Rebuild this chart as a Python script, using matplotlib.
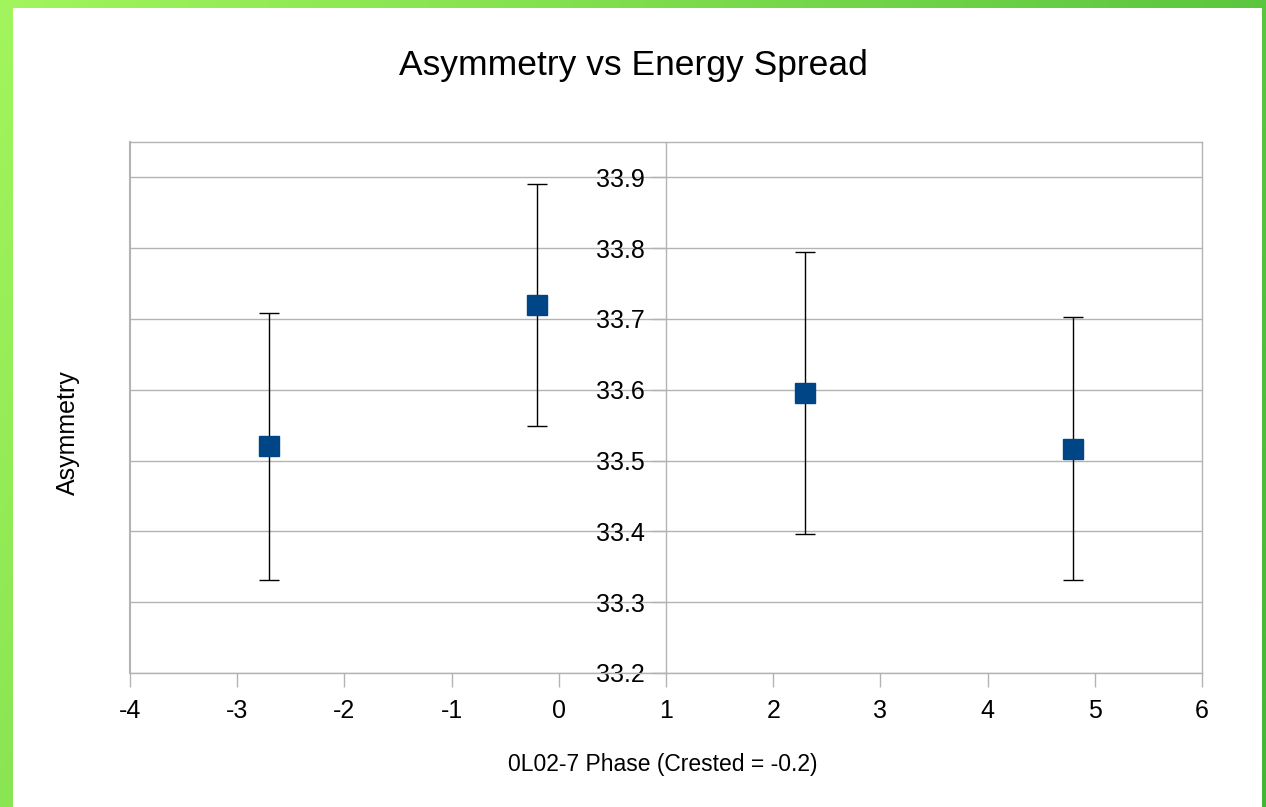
import numpy as np
import matplotlib
matplotlib.use("Agg")
import matplotlib.pyplot as plt
from matplotlib.patches import Rectangle

plt.rcParams['font.family'] = ['Liberation Sans', 'DejaVu Sans']

# Data
phase = [-2.7, -0.2, 2.3, 4.8]
asym = [33.52, 33.72, 33.595, 33.517]
err = [0.188, 0.171, 0.199, 0.186]
xticks = [-4, -3, -2, -1, 0, 1, 2, 3, 4, 5, 6]
yticks = [33.2, 33.3, 33.4, 33.5, 33.6, 33.7, 33.8, 33.9]

W, H = 1266, 807
fig = plt.figure(figsize=(W / 100, H / 100), dpi=100)

# Green gradient background
bg = fig.add_axes([0, 0, 1, 1])
bg.set_axis_off()
gx = np.linspace(0, 1, 300)[None, :]
gy = np.linspace(0, 1, 200)[:, None]
t = np.clip(0.75 * gx + 0.25 * gy, 0, 1)
c0 = np.array([0xa2, 0xf5, 0x5c]) / 255.0
c1 = np.array([0x44, 0xb6, 0x36]) / 255.0
img = c0[None, None, :] * (1 - t[..., None]) + c1[None, None, :] * t[..., None]
bg.imshow(img, extent=[0, 1, 0, 1], aspect='auto', origin='upper')
bg.add_patch(Rectangle((13 / W, 0), (1262 - 13) / W, (H - 8) / H,
                       transform=bg.transAxes, facecolor='white', edgecolor='none'))
bg.set_xlim(0, 1)
bg.set_ylim(0, 1)

ax = fig.add_axes([130 / W, 1 - 673 / H, (1202 - 130) / W, (673 - 142) / H])
ax.set_facecolor('none')
ax.set_xlim(-4, 6)
ax.set_ylim(33.2, 33.95)

gcol = '#b3b3b3'
ax.set_xticks(xticks)
ax.set_xticklabels([str(v) for v in xticks])
ax.set_yticks(yticks)
ax.set_yticklabels([f"{v:.1f}" for v in yticks])
ax.yaxis.grid(True, color=gcol, linewidth=1)
ax.set_axisbelow(True)

for s in ['top', 'right', 'bottom']:
    ax.spines[s].set_color(gcol)
    ax.spines[s].set_linewidth(1)
ax.spines['left'].set_position(('data', 1))
ax.spines['left'].set_color(gcol)
ax.spines['left'].set_linewidth(1)
ax.axvline(-4, color=gcol, linewidth=1.5, clip_on=False)

ax.tick_params(axis='x', direction='out', length=10, width=1, color=gcol,
               labelsize=18, pad=9)
ax.tick_params(axis='y', direction='out', length=10, width=1, color=gcol,
               labelsize=18, pad=5.5)

ax.errorbar(phase, asym, yerr=err, fmt='s', color='#004586', markersize=14,
            markeredgecolor='#004586', ecolor='black', elinewidth=1,
            capsize=7, capthick=1, zorder=3)

fig.text(0.5, 1 - 65 / H, 'Asymmetry vs Energy Spread', ha='center', va='center',
         fontsize=25.5)
fig.text(663 / W, 1 - 765 / H, '0L02-7 Phase (Crested = -0.2)', ha='center',
         va='center', fontsize=16.5)
fig.text(68 / W, 1 - 433 / H, 'Asymmetry', ha='center', va='center',
         rotation=90, fontsize=18)

fig.savefig('out.png', dpi=100)
